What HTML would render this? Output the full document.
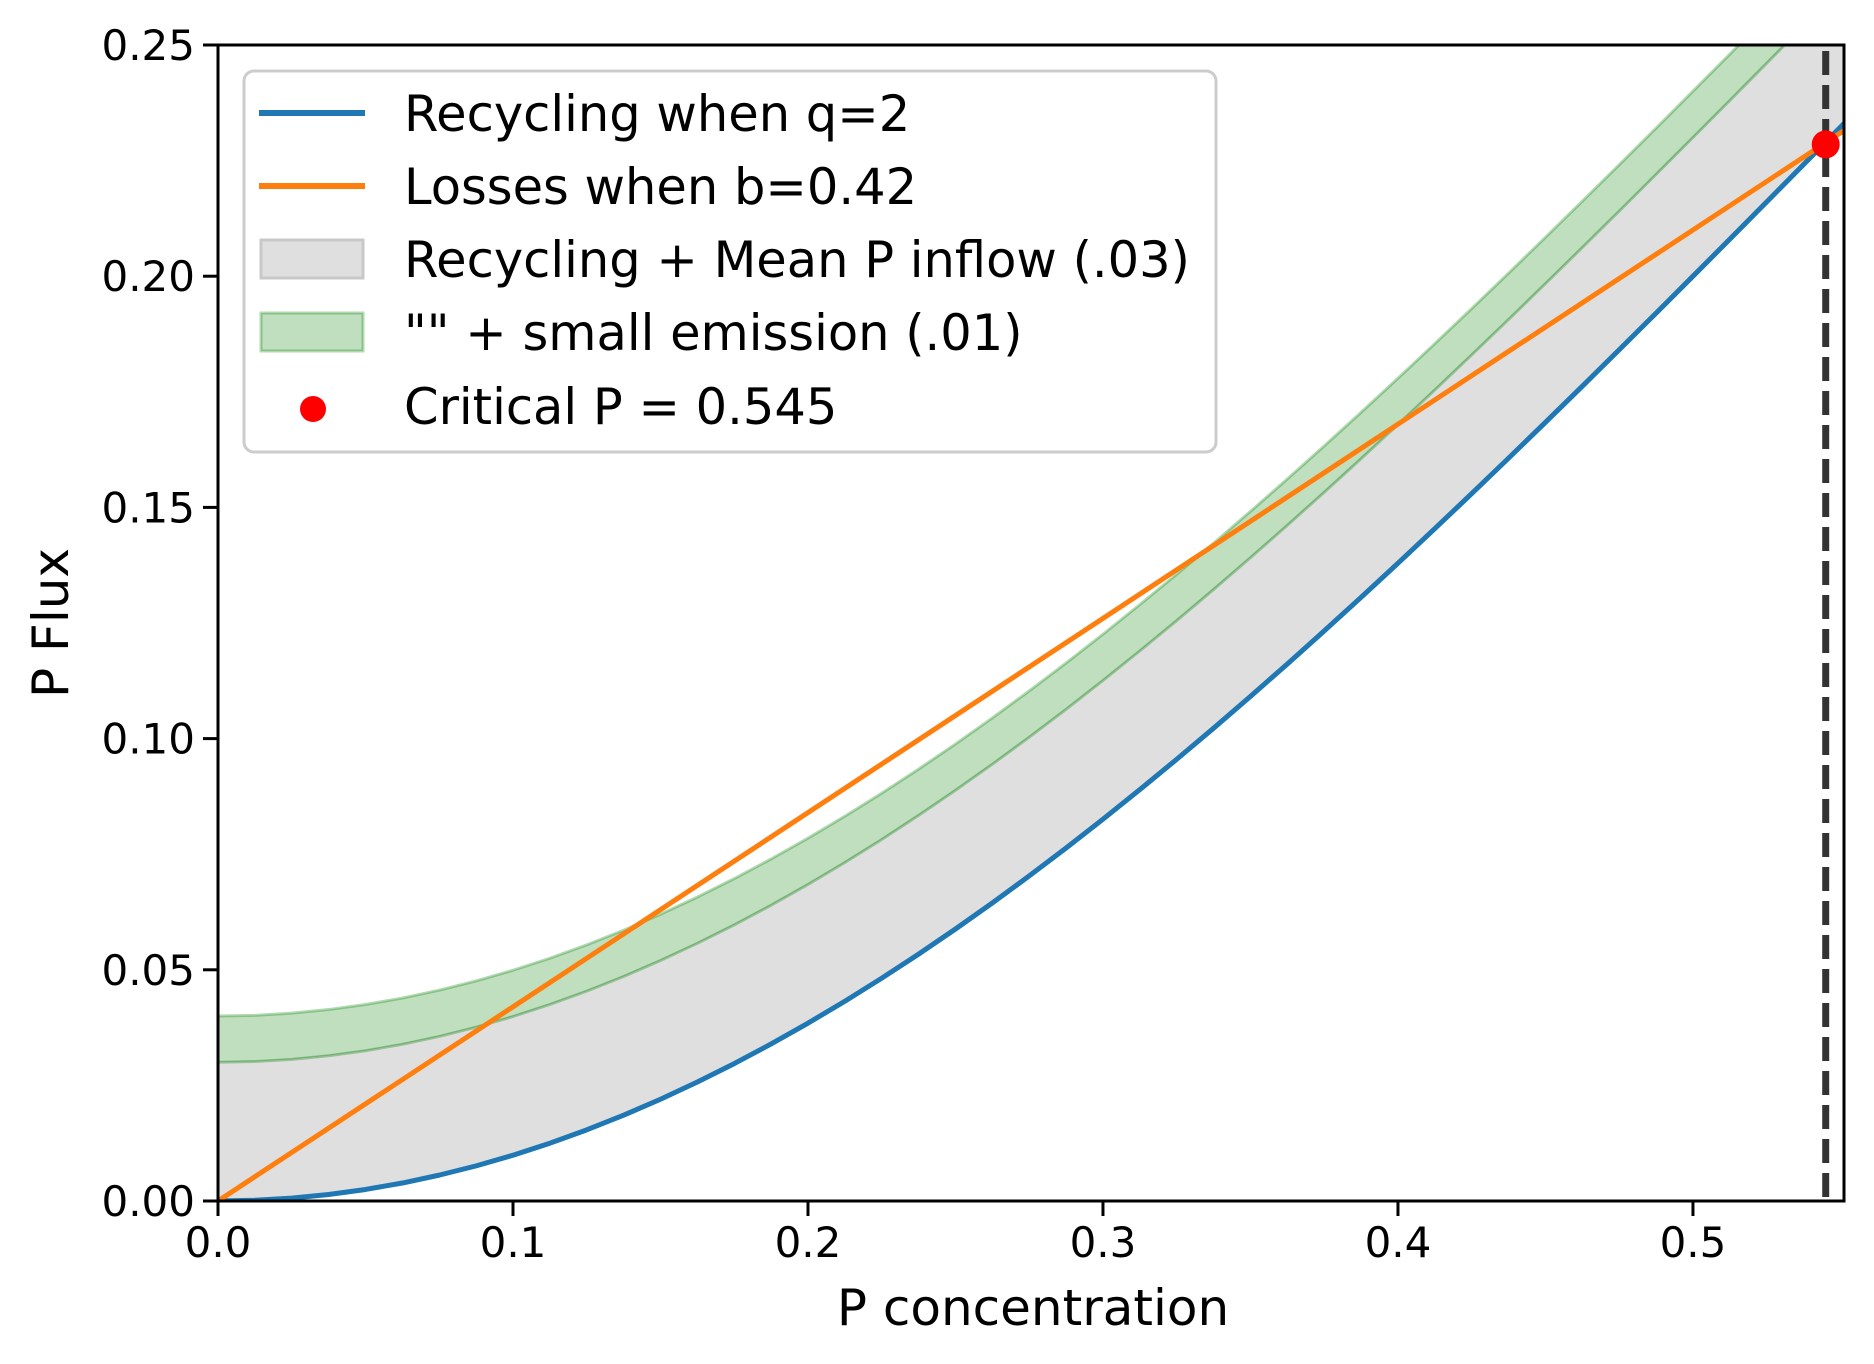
<!DOCTYPE html>
<html><head><meta charset="utf-8"><style>
html,body{margin:0;padding:0;background:#fff;}
svg{display:block;font-family:"DejaVu Sans","Liberation Sans",sans-serif;}
</style></head><body>
<svg id="chart" width="1874" height="1364" viewBox="0 0 1874 1364" xmlns="http://www.w3.org/2000/svg">
<defs><clipPath id="plotclip"><rect x="218" y="45" width="1626" height="1156"/></clipPath></defs>
<rect width="1874" height="1364" fill="#fff"/>
<g id="plot" clip-path="url(#plotclip)"></g>
<g id="axes"></g>
<g id="legend">
  <rect x="244" y="71" width="972" height="381" rx="10" fill="#fff" fill-opacity="0.8" stroke="#cccccc" stroke-width="3"/>
  <line x1="259" y1="113" x2="365" y2="113" stroke="#1f77b4" stroke-width="6"/>
  <text x="404" y="131" font-size="49.5">Recycling when q=2</text>
  <line x1="259" y1="186" x2="365" y2="186" stroke="#ff7f0e" stroke-width="6"/>
  <text x="404" y="204" font-size="49.5">Losses when b=0.42</text>
  <rect x="261" y="240" width="102" height="38" fill="#dfdfdf" stroke="#c8c8c8" stroke-width="3"/>
  <text x="404" y="277" font-size="49.5">Recycling + Mean P inflow (.03)</text>
  <rect x="261" y="313" width="102" height="38" fill="rgba(0,128,0,0.25)" stroke="rgba(0,128,0,0.3)" stroke-width="3"/>
  <text x="404" y="350" font-size="49.5">"" + small emission (.01)</text>
  <circle cx="313" cy="409" r="13" fill="#ff0000"/>
  <text x="404" y="424" font-size="49.5">Critical P = 0.545</text>
</g>
<text x="1033" y="1325" font-size="50" text-anchor="middle">P concentration</text>
<text x="0" y="0" font-size="50" text-anchor="middle" transform="translate(68,623) rotate(-90)">P Flux</text>
</svg>
<script>
const pX = [0,0.0125,0.025,0.0375,0.05,0.0625,0.075,0.0875,0.1,0.1125,0.125,0.1375,0.15,0.1625,0.175,0.1875,0.2,0.2125,0.225,0.2375,0.25,0.2625,0.275,0.2875,0.3,0.3125,0.325,0.3375,0.35,0.3625,0.375,0.3875,0.4,0.4125,0.425,0.4375,0.45,0.4625,0.475,0.4875,0.5,0.5125,0.525,0.5375,0.55,0.5625];
const recycling = [0,0.000156,0.000625,0.001404,0.002494,0.003891,0.005594,0.007598,0.009901,0.012498,0.015385,0.018555,0.022005,0.025727,0.029715,0.033962,0.038462,0.043205,0.048186,0.053395,0.058824,0.064464,0.070308,0.076346,0.082569,0.088968,0.095534,0.102258,0.109131,0.116145,0.123288,0.130553,0.137931,0.145414,0.152991,0.160656,0.168399,0.176213,0.184089,0.192021,0.2,0.208018,0.216071,0.224145,0.232246,0.240356];
const lossX = [0,0.575];
const lossY = [0,0.2415];
const meanInflow = [0.03];
const emission = [0.01];
const criticalP = [0.545];
const criticalFlux = [0.2285];
const xTicks = [0,0.1,0.2,0.3,0.4,0.5];
const xTickLabels = ["0.0","0.1","0.2","0.3","0.4","0.5"];
const yTicks = [0,0.05,0.1,0.15,0.2,0.25];
const yTickLabels = ["0.00","0.05","0.10","0.15","0.20","0.25"];

const X0=218,X1=1844,Y0=1201,Y1=45,XMAX=0.5512,YMAX=0.25;
const sx=v=>X0+(X1-X0)*v/XMAX;
const sy=v=>Y0-(Y0-Y1)*v/YMAX;
const NS="http://www.w3.org/2000/svg";
const plot=document.getElementById('plot');
const axes=document.getElementById('axes');
function mk(tag,attrs,parent){const e=document.createElementNS(NS,tag);for(const k in attrs)e.setAttribute(k,attrs[k]);parent.appendChild(e);return e;}
function pts(off){return pX.map((x,i)=>sx(x).toFixed(2)+','+sy(recycling[i]+off).toFixed(2));}

const lo=pts(0), hi=pts(meanInflow[0]), hi2=pts(meanInflow[0]+emission[0]);
const gray=mk('polygon',{points:lo.concat(hi.slice().reverse()).join(' '),fill:'#dfdfdf',stroke:'#dcdcdc','stroke-width':2,'stroke-linejoin':'round'},plot);


const green=mk('polygon',{points:hi.concat(hi2.slice().reverse()).join(' '),fill:'rgba(0,128,0,0.25)',stroke:'rgba(0,128,0,0.3)','stroke-width':3,'stroke-linejoin':'round'},plot);


const blue=mk('polyline',{points:lo.join(' '),fill:'none',stroke:'#1f77b4','stroke-width':5,'stroke-linejoin':'round'},plot);


const orange=mk('polyline',{points:lossX.map((x,i)=>sx(x)+','+sy(lossY[i])).join(' '),fill:'none',stroke:'#ff7f0e','stroke-width':5},plot);


const vl=mk('line',{x1:sx(criticalP[0]),x2:sx(criticalP[0]),y1:Y1+6,y2:Y0+10,stroke:'#333333','stroke-width':7,'stroke-dasharray':'24 10'},plot);


const dot=mk('circle',{cx:sx(criticalP[0]),cy:sy(criticalFlux[0]),r:14,fill:'#ff0000'},axes.parentNode);



const frame=mk('rect',{x:X0,y:Y1,width:X1-X0,height:Y0-Y1,fill:'none',stroke:'#000','stroke-width':3},axes);


xTicks.forEach((v,i)=>{
  const t=mk('line',{x1:sx(v),x2:sx(v),y1:Y0,y2:Y0+15,stroke:'#000','stroke-width':3},axes);
  
  
  const l=mk('text',{x:sx(v),y:Y0+56,'font-size':42,'text-anchor':'middle'},axes);
  
  
  l.textContent=xTickLabels[i];
});
yTicks.forEach((v,i)=>{
  const t=mk('line',{x1:X0-15,x2:X0,y1:sy(v),y2:sy(v),stroke:'#000','stroke-width':3},axes);
  
  
  const l=mk('text',{x:X0-23,y:sy(v)+15,'font-size':42,'text-anchor':'end'},axes);
  
  
  l.textContent=yTickLabels[i];
});
const svg=document.getElementById('chart');
svg.appendChild(document.getElementById('legend'));
</script>
</body></html>
